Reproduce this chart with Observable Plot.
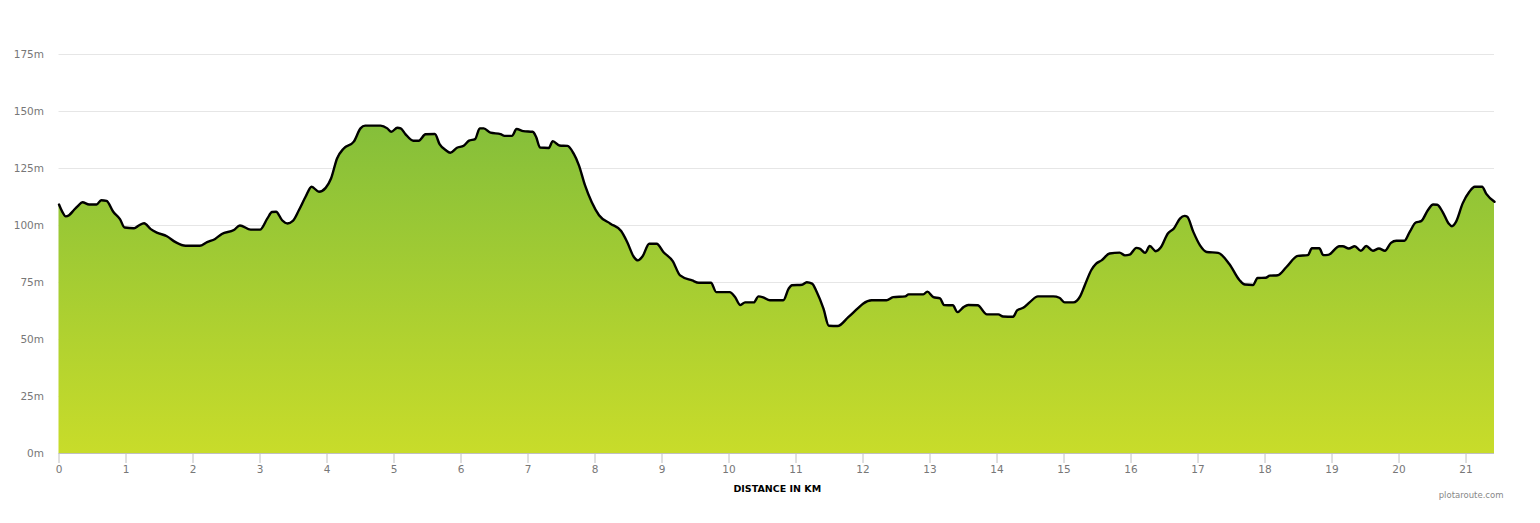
<!DOCTYPE html>
<html>
<head>
<meta charset="utf-8">
<script src="https://cdn.jsdelivr.net/npm/d3@7"></script>
<script src="https://cdn.jsdelivr.net/npm/@observablehq/plot@0.6"></script>
<style>
html,body{margin:0;padding:0;background:#fff;overflow:hidden}
svg{display:block}
</style>
</head>
<body>
<div id="chart"></div>
<script>
const distanceKm = [0,0.05,0.10,0.15,0.22,0.28,0.35,0.45,0.56,0.63,0.71,0.81,0.91,0.98,1.12,1.19,1.27,1.37,1.46,1.61,1.74,1.89,2.10,2.21,2.33,2.43,2.61,2.70,2.86,3.0,3.11,3.18,3.24,3.33,3.41,3.49,3.58,3.68,3.77,3.88,3.98,4.06,4.15,4.25,4.40,4.50,4.57,4.80,4.90,4.96,5.05,5.10,5.17,5.29,5.37,5.47,5.61,5.68,5.77,5.84,5.94,6.04,6.12,6.21,6.28,6.34,6.44,6.59,6.65,6.76,6.83,6.93,7.07,7.12,7.18,7.31,7.37,7.47,7.59,7.68,7.76,7.85,7.95,8.06,8.23,8.39,8.48,8.58,8.64,8.71,8.81,8.92,9.02,9.16,9.27,9.45,9.55,9.73,9.81,10.01,10.09,10.17,10.24,10.37,10.44,10.51,10.61,10.81,10.89,10.94,11.09,11.16,11.24,11.31,11.41,11.49,11.62,11.78,11.93,12.0,12.13,12.35,12.45,12.63,12.68,12.9,12.96,13.05,13.15,13.21,13.34,13.41,13.5,13.57,13.71,13.85,14.02,14.09,14.24,14.3,14.39,14.49,14.61,14.84,14.93,15.01,15.14,15.24,15.31,15.41,15.48,15.56,15.68,15.83,15.91,15.98,16.08,16.13,16.21,16.28,16.37,16.44,16.55,16.64,16.73,16.8,16.84,16.93,17.03,17.13,17.3,17.47,17.62,17.70,17.82,17.89,18.01,18.07,18.19,18.32,18.49,18.64,18.7,18.81,18.87,18.94,19.11,19.16,19.25,19.34,19.43,19.51,19.61,19.7,19.79,19.88,19.96,20.08,20.16,20.25,20.33,20.43,20.51,20.57,20.65,20.74,20.79,20.85,20.95,21.05,21.13,21.24,21.3,21.425];
const elevationM = [109.2,106,104,104.5,106.7,108.5,110.2,109.2,109.2,111.1,110.8,106,102.8,99.1,98.8,100,101,98.4,96.9,95.3,92.7,91.1,91.1,92.7,94.1,96.3,98,100,98.2,98.2,103.1,105.9,106,102.3,100.9,102,106.7,112.6,117,114.8,116.5,120.6,129.4,133.8,136.8,142.6,143.8,143.8,142.6,141.1,142.9,142.6,140.1,137.2,137.2,140,140.1,135.7,133.1,131.9,134.1,135,137.2,137.9,142.6,142.6,140.7,140.1,139.3,139.3,142.3,141.4,141.1,138.9,134.2,134,137,135.1,134.9,131.6,126.4,117.7,110.3,104.5,100.8,97.6,92.8,86.2,84.7,86.5,92,92,88.4,84.4,78.1,75.9,74.9,74.9,70.8,70.8,68.6,65.1,66.3,66.3,68.9,68.5,67.2,67.2,72.3,73.8,74,75.1,74.5,70.8,63.5,56,55.9,59.8,63.9,65.7,67.2,67.2,68.6,68.9,69.8,69.8,71,68.6,68,65.1,65,62,64.2,65.1,65,61,61,60.1,60,62.8,63.9,66.4,68.9,68.9,68.3,66.3,66.3,68.9,73.8,80.6,83.3,84.7,87.7,88.1,86.9,87.2,90.2,89.9,88,91,88.7,90.2,96.5,98.7,103,104.2,103.8,97.2,91.3,88.4,88,83,76,74.1,73.9,77,77.1,78,78.2,81.8,86.7,87,90,90,87,87.1,90.9,90.9,89.9,90.9,88.9,91,88.9,89.9,88.9,92.4,93.3,93.3,97.2,101.3,101.9,106.7,109.2,109.1,106,100.9,99.7,101.6,109.7,114.8,117,117,114,110.4];
const xTicks = d3.range(0, 22);
const yTicks = [0, 25, 50, 75, 100, 125, 150, 175];
const xLabel = "DISTANCE IN KM";
const credit = "plotaroute.com";
const topColor = "#85bf3a";
const bottomColor = "#c8dc2a";

const route = distanceKm.map((km, i) => ({km, m: elevationM[i]}));

const gradient = () => {
  const defs = d3.create("svg:defs");
  const g = defs.append("linearGradient").attr("id", "elev").attr("x1", 0).attr("y1", 0).attr("x2", 0).attr("y2", 1);
  g.append("stop").attr("offset", "0%").attr("stop-color", topColor);
  g.append("stop").attr("offset", "100%").attr("stop-color", bottomColor);
  return defs.node();
};

const chart = Plot.plot({
  width: 1540,
  height: 523,
  marginLeft: 58.5,
  marginRight: 46,
  marginTop: 54,
  marginBottom: 70,
  style: {fontFamily: "DejaVu Sans", fontSize: "10.5px", background: "#fff", color: "#666"},
  x: {domain: [0, 21.425]},
  y: {domain: [0, 175]},
  marks: [
    gradient,
    Plot.gridY({ticks: yTicks, stroke: "#e6e6e6", strokeOpacity: 1}),
    Plot.areaY(route, {x: "km", y: "m", fill: "url(#elev)", curve: "monotone-x"}),
    Plot.lineY(route, {x: "km", y: "m", stroke: "#000", strokeWidth: 2.4, curve: "monotone-x"}),
    Plot.ruleY([0], {stroke: "#c0c0c0"}),
    Plot.axisY({ticks: yTicks, tickFormat: d => d + "m", tickSize: 0, tickPadding: 15, label: null, color: "#777", dy: 0.5}),
    Plot.axisX({ticks: xTicks, tickFormat: d => String(d), tickSize: 10, tickPadding: 2, label: null, stroke: "#c0c0c0", fill: "#777"}),
    Plot.text([xLabel], {frameAnchor: "bottom", dy: 38, fontSize: 9.5, fontWeight: "bold", fill: "#000", x: () => 10.72}),
    Plot.text([credit], {frameAnchor: "bottom-right", dy: 44, dx: 9, fontSize: 8.5, fill: "#888"})
  ]
});
document.getElementById("chart").append(chart);
</script>
</body>
</html>
